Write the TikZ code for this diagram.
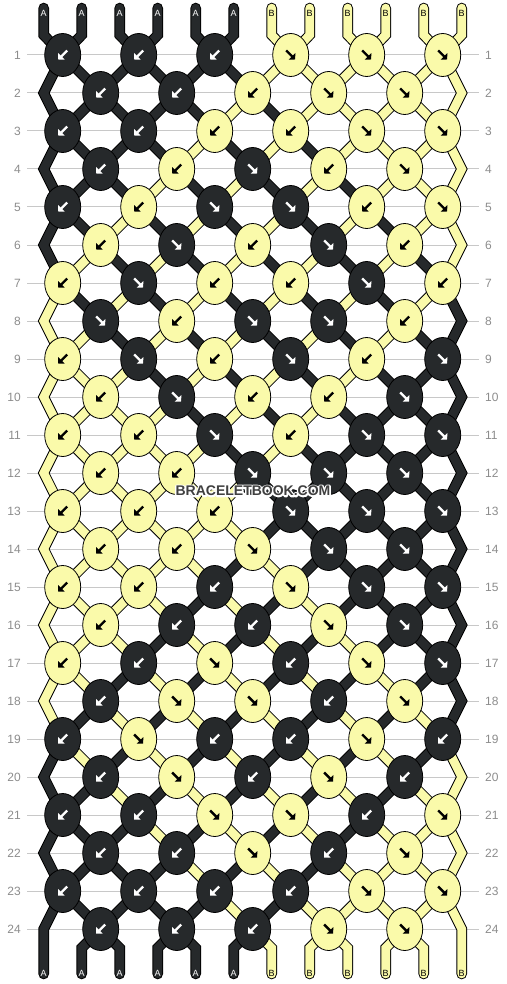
\documentclass[tikz,border=0pt]{standalone}
\usepackage{fontspec}
\setmainfont{Liberation Sans}
\usetikzlibrary{shapes.geometric,arrows.meta,backgrounds}
\definecolor{strA}{RGB}{38,41,43}
\definecolor{strB}{RGB}{250,250,170}
\colorlet{lblA}{white}
\colorlet{lblB}{black}
\definecolor{rowline}{RGB}{200,200,200}
\definecolor{rownum}{RGB}{140,140,140}
\definecolor{markgray}{RGB}{64,64,64}
\newcommand{\halotext}[1]{\special{pdf:literal direct 1 Tr 3 w 1 j 1 1 1 RG}#1\special{pdf:literal direct 0 Tr}}
\tikzset{knotbox/.style={ellipse,draw=black,line width=0.8pt,fill=#1,minimum width=36pt,minimum height=43pt,inner sep=0pt},knotbox/.default=strA}
\tikzset{knotarrow/.style={draw=#1,line width=2.4pt,-{Triangle[width=9pt,length=4.5pt]}},knotarrow/.default=white}
\tikzset{thread/.style={draw=#1,line width=8.6pt,line cap=round,preaction={draw=black,line width=10.6pt,line cap=round}},thread/.default=strA}
\tikzset{rownumber/.style={text=rownum,inner sep=0pt,font=\fontsize{12}{14}\selectfont}}
\tikzset{endletter/.style={text=#1,inner sep=0pt,font=\fontsize{9}{10}\selectfont},endletter/.default=white}
\tikzset{marktext/.style={text=markgray,font=\bfseries\fontsize{14}{16}\selectfont}}

\begin{document}
\begin{tikzpicture}[x=1pt,y=-1pt,declare function={tri(\u)=12-abs(12-mod(\u+48,24));}]
	\useasboundingbox (0,0) rectangle (506,984);
	% row numbers
	\foreach \r in {1,...,24} {
		\node [rownumber,anchor=east] (nl-\r) at (21,17+38*\r) {\r};
		\node [rownumber,anchor=west] (nr-\r) at (485,17+38*\r) {\r};
	}
	% knots, colour/direction per row
	\foreach \row [count=\r] in {
		{A/L,A/L,A/L,B/R,B/R,B/R},
		{A/L,A/L,B/L,B/R,B/R},
		{A/L,A/L,B/L,B/L,B/R,B/R},
		{A/L,B/L,A/R,B/L,B/R},
		{A/L,B/L,A/R,A/R,B/L,B/R},
		{B/L,A/R,B/L,A/R,B/L},
		{B/L,A/R,B/L,B/L,A/R,B/L},
		{A/R,B/L,A/R,A/R,B/L},
		{B/L,A/R,B/L,A/R,B/L,A/R},
		{B/L,A/R,B/L,B/L,A/R},
		{B/L,B/L,A/R,B/L,A/R,A/R},
		{B/L,B/L,A/R,A/R,A/R},
		{B/L,B/L,B/L,A/R,A/R,A/R},
		{B/L,B/L,B/R,A/R,A/R},
		{B/L,B/L,A/L,B/R,A/R,A/R},
		{B/L,A/L,A/L,B/R,A/R},
		{B/L,A/L,B/R,A/L,B/R,A/R},
		{A/L,B/R,B/R,A/L,B/R},
		{A/L,B/R,A/L,A/L,B/R,A/L},
		{A/L,B/R,A/L,B/R,A/L},
		{A/L,A/L,B/R,B/R,A/L,B/R},
		{A/L,A/L,B/R,A/L,B/R},
		{A/L,A/L,A/L,A/L,B/R,B/R},
		{A/L,A/L,A/L,B/R,B/R}} {
		\foreach \col/\dir [count=\n] in \row {
			\pgfmathtruncatemacro\c{2*\n-mod(\r,2)}
			\if\dir L\def\s{-1}\else\def\s{1}\fi
			\node [knotbox=str\col] (p-\r-\c) at (24.7+38*\c,17+38*\r) {};
			\draw [knotarrow=lbl\col] ([shift={(-4.5*\s,-4.5)}]p-\r-\c.center) -- ([shift={(4.5*\s,4.5)}]p-\r-\c.center);
		}
		\ifodd\r\else
			\coordinate (p-\r-0) at (43.7,17+38*\r);
			\coordinate (p-\r-12) at (461.7,17+38*\r);
		\fi
	}
	\begin{scope}[on background layer]
		\foreach \r in {1,...,24}
			\draw [rowline,line width=1pt] ([xshift=6pt]nl-\r.east) -- ([xshift=-6pt]nr-\r.west);
		% threads
		\foreach \i in {1,...,12} {
			\pgfmathtruncatemacro\cs{\i-1+mod(\i,2)}
			\pgfmathtruncatemacro\ds{2*mod(\i,2)-1}
			\pgfmathtruncatemacro\ca{tri(\cs+23*\ds)}
			\pgfmathtruncatemacro\cb{tri(\cs+24*\ds)}
			\pgfmathsetmacro\xe{5.7+38*(\ca+(\cb>\ca))}
			\ifnum\i<7 \def\sname{A}\else\def\sname{B}\fi
			\coordinate (t-\i) at (5.7+38*\i,8);
			\coordinate (tb-\i) at (5.7+38*\i,35);
			\coordinate (bb-\i) at (\xe,948);
			\coordinate (b-\i) at (\xe,974);
			\draw [thread=str\sname] (t-\i) -- (tb-\i)
				foreach \r [evaluate={\r as \c using int(tri(\cs+\ds*(\r-1)))}] in {1,...,24} { -- (p-\r-\c.center) }
				-- (bb-\i) -- (b-\i);
			\node [endletter=lbl\sname] (lt-\i) at (5.7+38*\i,13) {\sname};
			\node [endletter=lbl\sname] (lb-\i) at (\xe,973) {\sname};
		}
	\end{scope}
	% watermark with white outline
	\node [marktext] (mark-halo) at (253,491) {\halotext{BRACELETBOOK.COM}};
	\node [marktext] (mark) at (mark-halo) {BRACELETBOOK.COM};
\end{tikzpicture}
\end{document}
